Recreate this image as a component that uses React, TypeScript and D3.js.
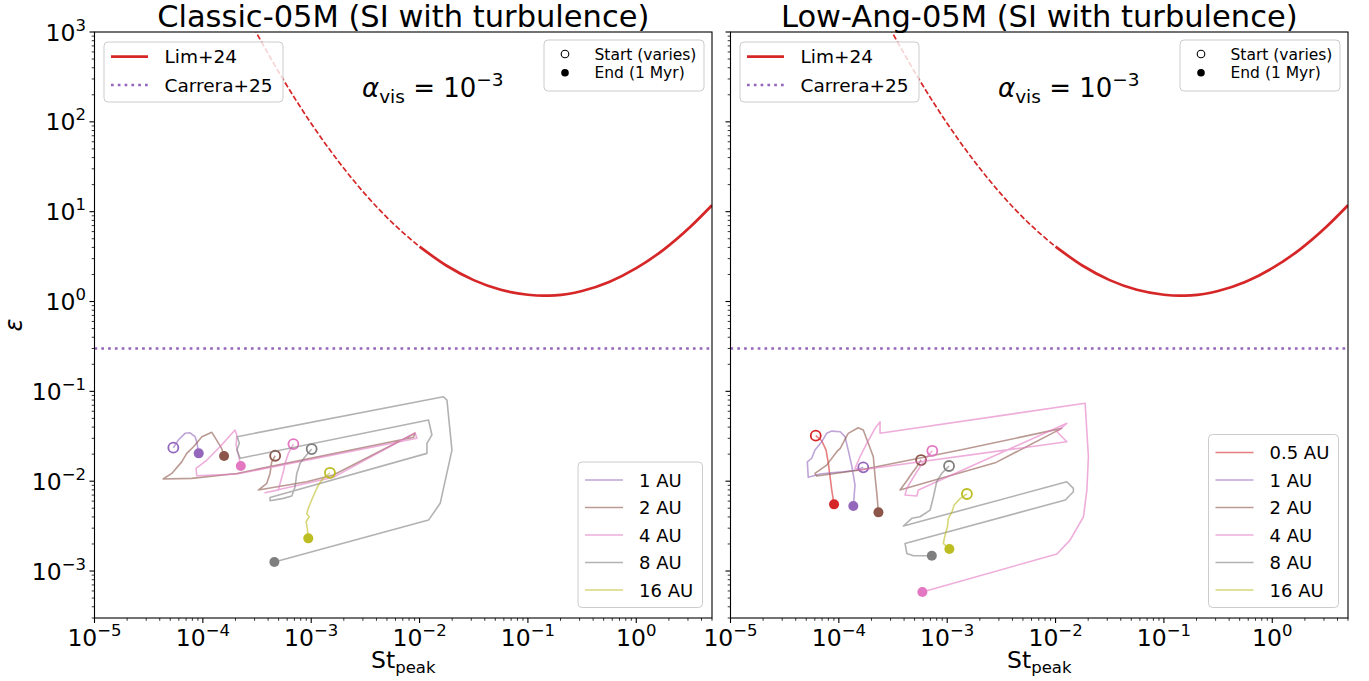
import React from 'react';
import * as d3 from 'd3';

const W = 1369, H = 681;
const TOP = 32, BOTTOM = 618;
const PANEL_X: [number, number][] = [[94.5, 712], [730.5, 1348]];
const X_DOMAIN: [number, number] = [1e-5, 5];
const Y_DOMAIN: [number, number] = [3e-4, 1e3];
const X_MAJOR = [1e-5, 1e-4, 1e-3, 1e-2, 1e-1, 1];
const X_EXP = ['−5', '−4', '−3', '−2', '−1', '0'];
const Y_MAJOR = [1e-3, 1e-2, 1e-1, 1, 10, 100, 1000];
const Y_EXP = ['−3', '−2', '−1', '0', '1', '2', '3'];
const TITLES = ['Classic-05M (SI with turbulence)', 'Low-Ang-05M (SI with turbulence)'];

// Lim+24 criterion curve
const LIM_ST = [2.51e-4, 3.16e-4, 5.62e-4, 1e-3, 1.78e-3, 3.16e-3, 5.62e-3, 0.01, 0.0178, 0.0316, 0.0562, 0.1, 0.139, 0.178, 0.316, 0.562, 1, 1.78, 3.16, 5];
const LIM_EPS = [1600, 955, 285, 96, 36.4, 15.6, 7.5, 4.08, 2.5, 1.73, 1.35, 1.19, 1.16, 1.17, 1.31, 1.65, 2.35, 3.76, 6.79, 11.8];
const LIM_SPLIT = 0.01;
const CARRERA_EPS = 0.3;

const AU_LABELS = ['0.5 AU', '1 AU', '2 AU', '4 AU', '8 AU', '16 AU'];
const AU_COLORS = ['#d62728', '#9467bd', '#8c564b', '#e377c2', '#7f7f7f', '#bcbd22'];

type P = [number, number];
// Classic-05M trajectories [St, eps]
const C_1AU: P[] = [[5.34e-5, 0.0236], [5.94e-5, 0.0287], [6.85e-5, 0.0341], [7.62e-5, 0.0346], [8.47e-5, 0.0313], [8.78e-5, 0.0275], [9.16e-5, 0.0204]];
const C_2AU: P[] = [[4.65e-4, 0.0192], [4.32e-4, 0.0164], [4.17e-4, 0.0122], [3.89e-4, 0.00946], [3.25e-4, 0.00797], [9.1e-4, 0.00986], [1.6e-3, 0.0117], [9.1e-3, 0.0341], [8.8e-3, 0.0308], [2.06e-4, 0.0122], [7.9e-5, 0.01076], [4.3e-5, 0.01057], [5.17e-5, 0.0122], [6.38e-5, 0.0164], [7.1e-5, 0.0204], [8.2e-5, 0.0242], [9.8e-5, 0.0313], [1.21e-4, 0.035], [1.34e-4, 0.0287], [1.49e-4, 0.0232], [1.57e-4, 0.0191]];
const C_4AU: P[] = [[6.85e-4, 0.0259], [6.16e-4, 0.0204], [5.74e-4, 0.0158], [5.53e-4, 0.01274], [5.16e-4, 0.00946], [4.98e-4, 0.00797], [3.75e-4, 0.00743], [1.6e-3, 0.01104], [9.1e-3, 0.0346], [9.44e-3, 0.03], [2.06e-4, 0.012], [8.78e-5, 0.0115], [8.65e-5, 0.0139], [1.09e-4, 0.0172], [1.44e-4, 0.0242], [1.98e-4, 0.0371], [2.06e-4, 0.0327], [2.03e-4, 0.0252], [2.13e-4, 0.0195], [2.24e-4, 0.01475]];
const C_8AU: P[] = [[1.01e-3, 0.0228], [8.78e-4, 0.0187], [7.9e-4, 0.0158], [7.36e-4, 0.0122], [7.1e-4, 0.00867], [6.62e-4, 0.00684], [5.53e-4, 0.00644], [4.17e-4, 0.00606], [4.17e-4, 0.0066], [1.17e-2, 0.0204], [1.17e-2, 0.0264], [1.3e-2, 0.0327], [1.21e-2, 0.048], [2.21e-4, 0.018], [2.06e-4, 0.0222], [2.17e-4, 0.0264], [2.08e-4, 0.0313], [1.66e-2, 0.0871], [1.79e-2, 0.08], [1.99e-2, 0.0222], [1.55e-2, 0.00567], [1.21e-2, 0.00369], [4.57e-4, 0.00126]];
const C_16AU: P[] = [[1.49e-3, 0.0124], [1.32e-3, 0.01104], [1.165e-3, 0.00906], [1.09e-3, 0.00763], [1.01e-3, 0.00617], [9.4e-4, 0.00499], [9.1e-4, 0.00431], [9.6e-4, 0.00402], [8.97e-4, 0.00354], [9.2e-4, 0.00299], [9.4e-4, 0.00231]];

// Low-Ang-05M trajectories [St, eps]
const L_05AU: P[] = [[6.12e-5, 0.0321], [6.95e-5, 0.0282], [7.62e-5, 0.0222], [8.0e-5, 0.0158], [8.3e-5, 0.0112], [8.6e-5, 0.00797], [9.03e-5, 0.00552]];
const L_1AU: P[] = [[1.68e-4, 0.01426], [1.46e-4, 0.0133], [1.1e-4, 0.01274], [8.6e-5, 0.0124], [6.7e-5, 0.012], [5.22e-5, 0.01104], [5.12e-5, 0.0164], [5.62e-5, 0.018], [6.02e-5, 0.0222], [6.95e-5, 0.0275], [7.72e-5, 0.0341], [8.6e-5, 0.0361], [1.03e-4, 0.0355], [1.14e-4, 0.0313], [1.22e-4, 0.0222], [1.32e-4, 0.0145], [1.41e-4, 0.00906], [1.36e-4, 0.00529]];
const L_2AU: P[] = [[5.74e-4, 0.0172], [5.24e-4, 0.0145], [4.71e-4, 0.0122], [4.24e-4, 0.0101], [3.67e-4, 0.00797], [2.77e-3, 0.016], [1.14e-2, 0.0387], [1.32e-3, 0.0222], [1.57e-4, 0.0133], [6.25e-5, 0.0114], [6.02e-5, 0.0122], [7.72e-5, 0.0151], [9.57e-5, 0.0213], [1.03e-4, 0.0232], [1.22e-4, 0.0341], [1.51e-4, 0.0394], [1.68e-4, 0.0371], [1.87e-4, 0.0264], [2.08e-4, 0.0187], [2.16e-4, 0.0112], [2.24e-4, 0.00733], [2.32e-4, 0.0045]];
const L_4AU: P[] = [[7.29e-4, 0.0218], [6.7e-4, 0.0195], [6.03e-4, 0.0164], [5.24e-4, 0.01274], [4.71e-4, 0.0103], [4.24e-4, 0.00832], [4.08e-4, 0.00701], [5.24e-4, 0.00684], [5.42e-4, 0.00797], [1.27e-2, 0.0441], [1.03e-2, 0.0355], [1.27e-2, 0.0275], [1.57e-4, 0.0133], [1.41e-4, 0.0139], [1.57e-4, 0.0187], [1.81e-4, 0.0264], [2.16e-4, 0.0387], [2.4e-4, 0.0459], [2.4e-4, 0.0341], [1.875e-2, 0.0736], [2.01e-2, 0.0187], [1.945e-2, 0.00797], [1.81e-2, 0.00402], [1.36e-2, 0.00221], [1.03e-2, 0.00155], [5.9e-4, 0.000583]];
const L_8AU: P[] = [[1.04e-3, 0.01475], [8.9e-4, 0.0122], [8.0e-4, 0.00986], [7.46e-4, 0.00671], [6.95e-4, 0.00477], [5.62e-4, 0.00402], [4.71e-4, 0.00386], [3.94e-4, 0.00317], [1.27e-2, 0.00986], [1.46e-2, 0.00832], [1.46e-2, 0.00763], [1.23e-2, 0.00617], [4.08e-4, 0.00203], [4.24e-4, 0.00157], [4.88e-4, 0.00148], [7.21e-4, 0.00148]];
const L_16AU: P[] = [[1.52e-3, 0.0072], [1.32e-3, 0.00644], [1.16e-3, 0.00543], [1.1e-3, 0.00446], [1.026e-3, 0.00386], [1.005e-3, 0.00311], [9.57e-4, 0.00252], [9.2e-4, 0.00203], [1.047e-3, 0.00176]];

const PANEL_SERIES: { label: string; data: P[] }[][] = [
  [
    { label: '1 AU', data: C_1AU },
    { label: '2 AU', data: C_2AU },
    { label: '4 AU', data: C_4AU },
    { label: '8 AU', data: C_8AU },
    { label: '16 AU', data: C_16AU },
  ],
  [
    { label: '0.5 AU', data: L_05AU },
    { label: '1 AU', data: L_1AU },
    { label: '2 AU', data: L_2AU },
    { label: '4 AU', data: L_4AU },
    { label: '8 AU', data: L_8AU },
    { label: '16 AU', data: L_16AU },
  ],
];

const FONT = '"DejaVu Sans", Verdana, sans-serif';
const colorOf = (label: string) => AU_COLORS[AU_LABELS.indexOf(label)];

function minorTicks(lo: number, hi: number): number[] {
  const out: number[] = [];
  for (let e = Math.floor(Math.log10(lo)); e <= Math.ceil(Math.log10(hi)); e++) {
    for (let m = 2; m <= 9; m++) {
      const v = m * Math.pow(10, e);
      if (v >= lo * 0.9999 && v <= hi * 1.0001) out.push(v);
    }
  }
  return out;
}

function Panel({ idx }: { idx: number }) {
  const [x0, x1] = PANEL_X[idx];
  const x = d3.scaleLog().domain(X_DOMAIN).range([x0, x1]);
  const y = d3.scaleLog().domain(Y_DOMAIN).range([BOTTOM, TOP]);
  const cx = (x0 + x1) / 2;
  const clipId = `clip${idx}`;
  const line = d3.line<P>().x((d) => x(d[0])).y((d) => y(d[1]));
  const limPts: P[] = LIM_ST.map((s, i) => [s, LIM_EPS[i]] as P);
  const limLine = d3.line<P>().x((d) => x(d[0])).y((d) => y(d[1])).curve(d3.curveMonotoneX);
  const dashedPts = limPts.filter((d) => d[0] <= LIM_SPLIT);
  const solidPts = limPts.filter((d) => d[0] >= LIM_SPLIT);
  const series = PANEL_SERIES[idx];
  const xMinor = minorTicks(X_DOMAIN[0], X_DOMAIN[1]);
  const yMinor = minorTicks(Y_DOMAIN[0], Y_DOMAIN[1]);

  const lg1 = { x: x0 + 9.5, y: 42, w: 179, h: 60 };
  const lg2 = { x: x1 - 168, y: 40, w: 160, h: 51 };
  const nAU = series.length;
  const auSpacing = 27.5;
  const auW = idx === 0 ? 124.5 : 130;
  const auH = nAU * auSpacing + 8;
  const lg3 = { x: x1 - 9.5 - auW, y: BOTTOM - 10.5 - auH, w: auW, h: auH };

  return (
    <g>
      <defs>
        <clipPath id={clipId}>
          <rect x={x0} y={TOP} width={x1 - x0} height={BOTTOM - TOP} />
        </clipPath>
      </defs>
      <g clipPath={`url(#${clipId})`}>
        <path d={limLine(dashedPts) || ''} fill="none" stroke="#d62728" strokeWidth={1.7} strokeDasharray="5.5 2.4" />
        <path d={limLine(solidPts) || ''} fill="none" stroke="#d62728" strokeWidth={2.7} />
        <line x1={x0} x2={x1} y1={y(CARRERA_EPS)} y2={y(CARRERA_EPS)} stroke="#9467bd" strokeWidth={2.7} strokeDasharray="2.7 4.1" />
        {series.map((s) => (
          <g key={s.label}>
            <path d={line(s.data) || ''} fill="none" stroke={colorOf(s.label)} strokeOpacity={0.6} strokeWidth={1.6} strokeLinejoin="round" />
            <circle cx={x(s.data[0][0])} cy={y(s.data[0][1])} r={5} fill="none" stroke={colorOf(s.label)} strokeWidth={1.8} />
            <circle cx={x(s.data[s.data.length - 1][0])} cy={y(s.data[s.data.length - 1][1])} r={5} fill={colorOf(s.label)} />
          </g>
        ))}
      </g>
      <rect x={x0} y={TOP} width={x1 - x0} height={BOTTOM - TOP} fill="none" stroke="#000" strokeWidth={1.1} />
      {X_MAJOR.map((v, i) => (
        <g key={'xm' + i}>
          <line x1={x(v)} x2={x(v)} y1={BOTTOM} y2={BOTTOM + 5} stroke="#000" strokeWidth={1.1} />
          <text x={x(v)} y={646} textAnchor="middle" fontFamily={FONT} fontSize={23.5} fill="#000">
            <tspan>10</tspan>
            <tspan dy={-10} fontSize={16.5}>{X_EXP[i]}</tspan>
          </text>
        </g>
      ))}
      {xMinor.map((v, i) => (
        <line key={'xn' + i} x1={x(v)} x2={x(v)} y1={BOTTOM} y2={BOTTOM + 2.8} stroke="#000" strokeWidth={0.8} />
      ))}
      {Y_MAJOR.map((v, i) => (
        <g key={'ym' + i}>
          <line x1={x0 - 5} x2={x0} y1={y(v)} y2={y(v)} stroke="#000" strokeWidth={1.1} />
          {idx === 0 && (
            <text x={x0 - 8.5} y={y(v) + 8.5} textAnchor="end" fontFamily={FONT} fontSize={23.5} fill="#000">
              <tspan>10</tspan>
              <tspan dy={-10} fontSize={16.5}>{Y_EXP[i]}</tspan>
            </text>
          )}
        </g>
      ))}
      {yMinor.map((v, i) => (
        <line key={'yn' + i} x1={x0 - 2.8} x2={x0} y1={y(v)} y2={y(v)} stroke="#000" strokeWidth={0.8} />
      ))}
      <text x={cx} y={26.5} textAnchor="middle" fontFamily={FONT} fontSize={30.5} fill="#000">{TITLES[idx]}</text>
      <text x={cx} y={668} textAnchor="middle" fontFamily={FONT} fontSize={23.5} fill="#000">
        <tspan>St</tspan>
        <tspan dy={5} fontSize={16.5}>peak</tspan>
      </text>
      <text x={x0 + 267.5} y={97} fontFamily={FONT} fontSize={26} fill="#000">
        <tspan fontStyle="italic">α</tspan>
        <tspan dy={5.5} fontSize={18.5}>vis</tspan>
        <tspan dy={-5.5}>{' = 10'}</tspan>
        <tspan dy={-11} fontSize={18.5}>−3</tspan>
      </text>
      <rect x={lg1.x} y={lg1.y} width={lg1.w} height={lg1.h} rx={4} fill="#fff" fillOpacity={0.8} stroke="#cccccc" strokeWidth={1} />
      <line x1={lg1.x + 7} x2={lg1.x + 44} y1={56.7} y2={56.7} stroke="#d62728" strokeWidth={2.7} />
      <text x={lg1.x + 60.5} y={63.4} fontFamily={FONT} fontSize={18.5} fill="#000">Lim+24</text>
      <line x1={lg1.x + 7} x2={lg1.x + 44} y1={85} y2={85} stroke="#9467bd" strokeWidth={2.7} strokeDasharray="2.7 4.1" />
      <text x={lg1.x + 60.5} y={91.7} fontFamily={FONT} fontSize={18.5} fill="#000">Carrera+25</text>
      <rect x={lg2.x} y={lg2.y} width={lg2.w} height={lg2.h} rx={4} fill="#fff" fillOpacity={0.8} stroke="#cccccc" strokeWidth={1} />
      <circle cx={lg2.x + 21} cy={54} r={3.8} fill="none" stroke="#000" strokeWidth={1.1} />
      <text x={lg2.x + 50.5} y={59.6} fontFamily={FONT} fontSize={15.5} fill="#000">Start (varies)</text>
      <circle cx={lg2.x + 21} cy={72.7} r={3.8} fill="#000" />
      <text x={lg2.x + 50.5} y={78.3} fontFamily={FONT} fontSize={15.5} fill="#000">End (1 Myr)</text>
      <rect x={lg3.x} y={lg3.y} width={lg3.w} height={lg3.h} rx={4} fill="#fff" fillOpacity={0.8} stroke="#cccccc" strokeWidth={1} />
      {series.map((s, i) => {
        const yy = lg3.y + 18 + i * auSpacing;
        return (
          <g key={'lg' + s.label}>
            <line x1={lg3.x + 7} x2={lg3.x + 45} y1={yy} y2={yy} stroke={colorOf(s.label)} strokeOpacity={0.6} strokeWidth={1.6} />
            <text x={lg3.x + 61} y={yy + 6.5} fontFamily={FONT} fontSize={18} fill="#000">{s.label}</text>
          </g>
        );
      })}
    </g>
  );
}

export default function App() {
  return (
    <div style={{ position: 'fixed', left: 0, top: 0, width: W, height: H, background: '#fff' }}>
      <svg width={W} height={H} viewBox={`0 0 ${W} ${H}`} style={{ display: 'block' }}>
        <rect width={W} height={H} fill="#fff" />
        <Panel idx={0} />
        <Panel idx={1} />
        <text transform={`translate(22,${(TOP + BOTTOM) / 2}) rotate(-90)`} textAnchor="middle" fontFamily={FONT} fontSize={24} fontStyle="italic" fill="#000">ε</text>
      </svg>
    </div>
  );
}
